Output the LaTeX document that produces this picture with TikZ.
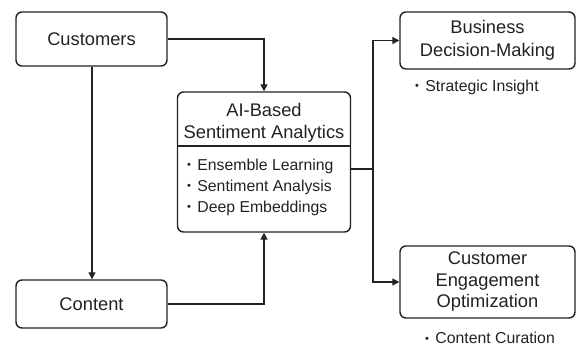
\documentclass[tikz,border=0pt]{standalone}
\usepackage{fontspec}
\setmainfont{Liberation Sans}
\usetikzlibrary{arrows.meta}
\definecolor{ink}{HTML}{222222}
\tikzset{
  box/.style={draw=ink, line width=1.4pt, rounded corners=6pt, inner sep=0pt, align=center},
  title/.style={font=\fontsize{18.3}{22.5}\selectfont, text=ink, align=center, inner sep=0pt},
  item/.style={font=\fontsize{15.8}{21}\selectfont, text=ink, align=left, inner sep=0pt},
  link/.style={draw=ink, line width=1.4pt, -{Triangle[length=7pt,width=7pt]}},
  plain/.style={draw=ink, line width=1.4pt},
}
\newcommand{\bul}{\raisebox{0.1em}{\scalebox{0.7}{\textbullet}}\hspace{0.4em}}
\begin{document}
\begin{tikzpicture}[x=1pt,y=-1pt]
  \useasboundingbox (0,0) rectangle (576,347);

  % input boxes
  \node[box, title, minimum width=151pt, minimum height=54pt] (cust) at (91.5,39) {Customers};
  \node[box, title, minimum width=151pt, minimum height=48pt] (cont) at (91.5,304) {Content};

  % central analytics box with title and method list
  \node[box, minimum width=173pt, minimum height=140pt] (ai) at (264,162) {};
  \node[title] (aititle) at (264,123) {AI-Based\\Sentiment Analytics};
  \draw[plain] (ai.west |- 0,146) -- (ai.east |- 0,146);
  \node[item, anchor=west] (ailist) at (187,187) {\bul Ensemble Learning\\\bul Sentiment Analysis\\\bul Deep Embeddings};

  % output boxes
  \node[box, title, minimum width=175pt, minimum height=57pt] (biz) at (487.5,40.5) {Business\\Decision-Making};
  \node[item, anchor=west] (biznote) at (415,87) {\bul Strategic Insight};
  \node[box, title, minimum width=175pt, minimum height=72pt, font=\fontsize{18.3}{21.5}\selectfont] (eng) at (487.5,282) {Customer\\Engagement\\Optimization};
  \node[item, anchor=west] (engnote) at (425,338) {\bul Content Curation};

  % connectors
  \coordinate (split) at (373,169);
  \draw[link] (cust.east) -| (ai.north);
  \draw[link] (cust.south -| 92,0) -- (cont.north -| 92,0);
  \draw[link] (cont.east) -| (ai.south);
  \draw[plain] (ai.east |- split) -- (split);
  \draw[link] (split) |- (biz.west);
  \draw[link] (split) |- (eng.west);
\end{tikzpicture}
\end{document}
